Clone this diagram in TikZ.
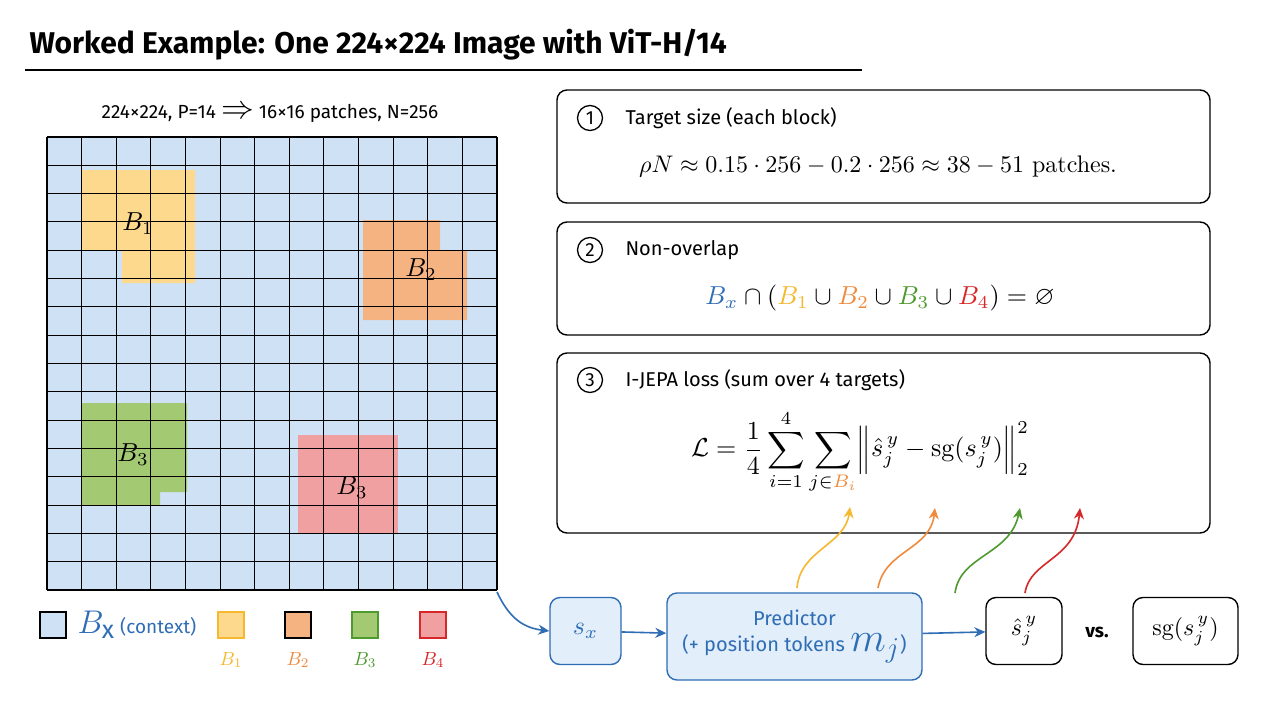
\documentclass[tikz,border=0pt]{standalone}
\usepackage{amsmath,amssymb}
\usepackage{graphicx}
\usepackage{fontspec}
\setmainfont{Fira Sans}
\newfontfamily\lmr{Latin Modern Roman}
\usetikzlibrary{arrows.meta}
\definecolor{cblue}{HTML}{2F6DB5}
\definecolor{fblue}{HTML}{CFE2F5}
\definecolor{cyel}{HTML}{F5B82E}
\definecolor{fyel}{HTML}{FDD98E}
\definecolor{cora}{HTML}{F08A3C}
\definecolor{fora}{HTML}{F5B382}
\definecolor{cgre}{HTML}{4E9A2F}
\definecolor{fgre}{HTML}{A3C972}
\definecolor{cred}{HTML}{D62828}
\definecolor{fred}{HTML}{F0A0A0}
\newcommand{\sgop}{\text{\lmr sg}}
\tikzset{
 panel/.style={draw=black,line width=1.4pt,rounded corners=10pt},
 num/.style={circle,draw=black,line width=1.3pt,inner sep=0pt,minimum size=25pt,font=\fontsize{19}{20}\selectfont},
 head/.style={anchor=west,font=\fontsize{20}{22}\selectfont},
 bluebox/.style={draw=cblue,fill=fblue!60,line width=1.4pt,rounded corners=10pt},
 whitebox/.style={draw=black,line width=1.4pt,rounded corners=10pt},
 arr/.style={-{Stealth[length=11pt,width=10pt]},line width=1.6pt},
 leg/.style={draw=black,line width=1.2pt},
 blab/.style={scale=2.6},
 llab/.style={scale=1.9},
}
\begin{document}
\begin{tikzpicture}[x=1pt,y=-1pt]
\useasboundingbox (0,0) rectangle (1280,720);
\fill[white] (0,0) rectangle (1280,720);
% title
\node[anchor=west,font=\fontsize{30}{32}\selectfont\bfseries] (title) at (26,45) {Worked Example: One 224×224 Image with ViT-H/14};
\draw[line width=1.6pt] (25,70) -- (862,70);
\node[font=\fontsize{19}{20}\selectfont] (sub) at (270,113) {224×224, P=14 \scalebox{1.9}{$\Rightarrow$} 16×16 patches, N=256};
% grid
\fill[fblue] (47,137) rectangle (497,590);
\fill[fyel] (82,170) -- (195,170) -- (195,283) -- (122,283) -- (122,250) -- (82,250) -- cycle;
\fill[fora] (363,220) -- (440,220) -- (440,250) -- (467,250) -- (467,320) -- (363,320) -- cycle;
\fill[fgre] (82,403) -- (187,403) -- (187,492) -- (160,492) -- (160,505) -- (82,505) -- cycle;
\fill[fred] (298,435) rectangle (398,533);
\foreach \i in {0,...,13} \draw[line width=1.1pt] ({47+\i*450/13},137) -- ({47+\i*450/13},590);
\foreach \j in {0,...,16} \draw[line width=1.1pt] (47,{137+\j*453/16}) -- (497,{137+\j*453/16});
\node[blab] (b1) at (138,224) {$B_1$};
\node[blab] (b2) at (421,270) {$B_2$};
\node[blab] (b3) at (133,455) {$B_3$};
\node[blab] (b4) at (352,488) {$B_3$};
\coordinate (gc) at (497,592);
% legend
\draw[leg,fill=fblue] (40,612) rectangle (66,638);
\node[anchor=west,text=cblue,font=\fontsize{19}{20}\selectfont] (lx) at (74,625) {\scalebox{1.9}{$B_\mathrm{x}$} (context)};
\draw[leg,draw=cyel,fill=fyel] (218,612) rectangle (244,638);
\draw[leg,fill=fora] (285,612) rectangle (311,638);
\draw[leg,draw=cgre,fill=fgre] (352,612) rectangle (378,638);
\draw[leg,draw=cred,fill=fred] (420,612) rectangle (446,638);
\node[llab,text=cyel] (l1) at (231,660) {$B_1$};
\node[llab,text=cora] (l2) at (298,660) {$B_2$};
\node[llab,text=cgre] (l3) at (365,660) {$B_3$};
\node[llab,text=cred] (l4) at (433,660) {$B_4$};
% panels
\draw[panel] (557,90) rectangle (1210,203);
\draw[panel] (557,222) rectangle (1210,335);
\draw[panel] (557,353) rectangle (1210,533);
\node[num] (n1) at (590,118) {1};
\node[head] (h1) at (622,118) {Target size (each block)};
\node[scale=2.4,font=\lmr] (f1) at (878,167) {$\rho N \approx 0.15\cdot 256 - 0.2\cdot 256 \approx 38 - 51$ patches.};
\node[num] (n2) at (590,250) {2};
\node[head] (h2) at (622,250) {Non-overlap};
\node[scale=2.6] (f2) at (880,298) {$\color{cblue}B_x \color{black}\cap (\color{cyel}B_1 \color{black}\cup \color{cora}B_2 \color{black}\cup \color{cgre}B_3\color{black} \cup \color{cred}B_4\color{black}) = \varnothing$};
\node[num] (n3) at (590,380) {3};
\node[head] (h3) at (622,380) {I-JEPA loss (sum over 4 targets)};
\node[scale=2.6] (f3) at (860,452) {$\displaystyle \mathcal{L} = \frac{1}{4}\sum_{i=1}^{4}\sum_{j\in \color{cora}B_i} \Bigl\| \hat{s}_j^{\,y} - \sgop(s_j^{\,y}) \Bigr\|_2^2$};
\coordinate (tB) at (850,507);
\coordinate (tS) at (935,508);
\coordinate (tG) at (1020,508);
\coordinate (tR) at (1080,508);
% bottom flow
\node[bluebox,minimum width=71pt,minimum height=67pt,text=cblue] (sx) at (585.5,631) {\scalebox{2.6}{$s_x$}};
\node[bluebox,minimum width=255pt,minimum height=87pt,text=cblue,font=\fontsize{20}{26}\selectfont,align=center] (pred) at (794.5,636.5) {Predictor\\(+ position tokens \scalebox{2}{$m_j$})};
\node[whitebox,minimum width=76pt,minimum height=67pt] (sh) at (1024,631) {\scalebox{2.4}{$\hat{s}_j^{\,y}$}};
\node[font=\fontsize{19}{20}\selectfont\bfseries] (vs) at (1097,632) {vs.};
\node[whitebox,minimum width=105pt,minimum height=67pt] (sg) at (1185.5,631) {\scalebox{2.4}{$\sgop(s_j^{\,y})$}};
\draw[arr,cblue] (gc) .. controls (510,620) and (525,628) .. (sx.west);
\draw[arr,cblue] (sx) -- (pred);
\draw[arr,cblue] (pred) -- (sh);
\draw[arr,cyel] (797,588) .. controls (800,550) and (845,545) .. (tB);
\draw[arr,cora] (878,588) .. controls (885,550) and (930,550) .. (tS);
\draw[arr,cgre] (955,593) .. controls (960,555) and (1010,555) .. (tG);
\draw[arr,cred] (1025,593) .. controls (1030,560) and (1075,560) .. (tR);
\end{tikzpicture}
\end{document}
